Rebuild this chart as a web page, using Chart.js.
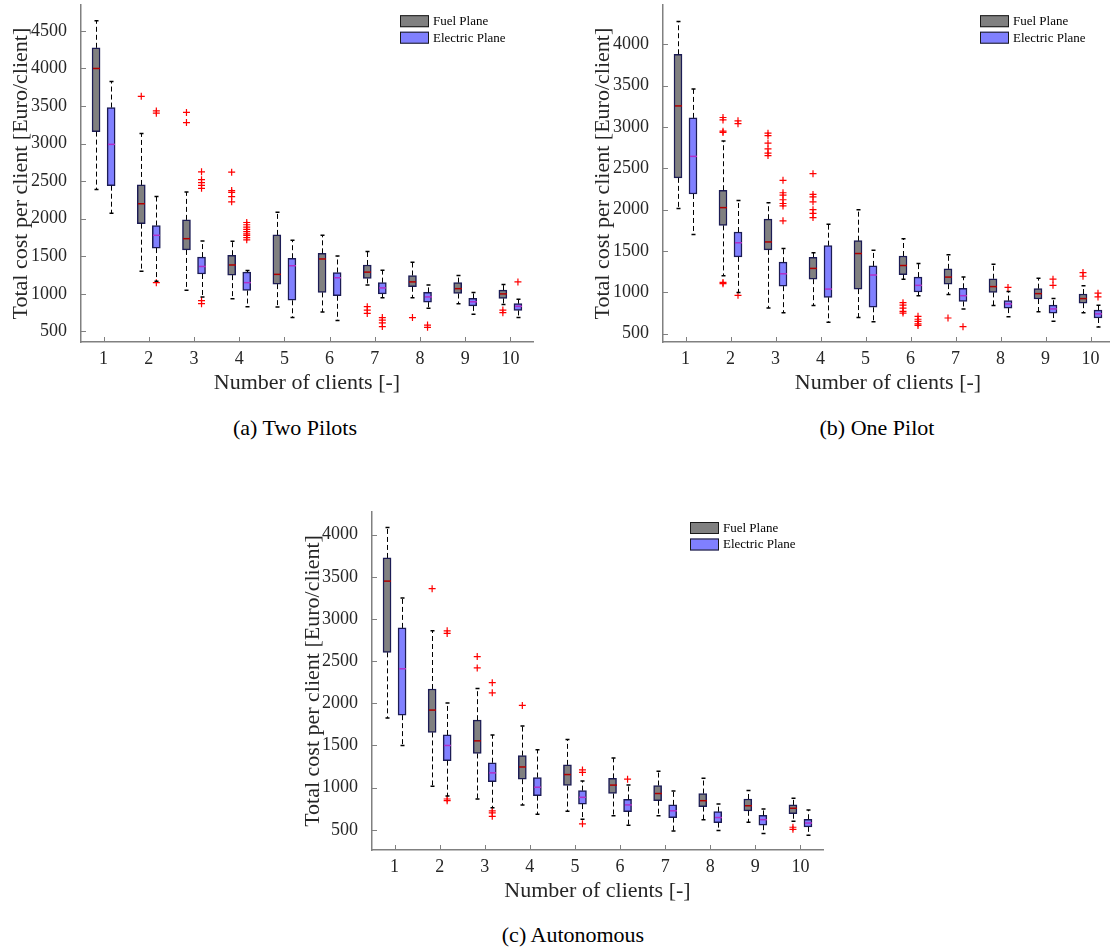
<!DOCTYPE html>
<html>
<head>
<meta charset="utf-8">
<script src="https://cdn.jsdelivr.net/npm/chart.js@4.4.1/dist/chart.umd.min.js"></script>
<style>
  html, body { margin: 0; padding: 0; background: #fff; width: 1110px; height: 948px; overflow: hidden; }
  .holder { position: absolute; }
  .caption { position: absolute; width: 240px; text-align: center; font-family: 'Liberation Serif', 'Times New Roman', Times, serif; font-size: 22px; line-height: 26px; color: #000; white-space: nowrap; }
</style>
</head>
<body>
<div class="holder" style="left:0px;top:0px;width:545px;height:400px"><canvas id="chartA"></canvas></div>
<div class="holder" style="left:580px;top:0px;width:545px;height:400px"><canvas id="chartB"></canvas></div>
<div class="holder" style="left:290px;top:506px;width:545px;height:402px"><canvas id="chartC"></canvas></div>
<div class="caption" style="left:175px;top:415px">(a) Two Pilots</div>
<div class="caption" style="left:757px;top:415px">(b) One Pilot</div>
<div class="caption" style="left:453px;top:922px">(c) Autonomous</div>
<script>
// number of clients
const cats = [1, 2, 3, 4, 5, 6, 7, 8, 9, 10];
const seriesNames = ['Fuel Plane', 'Electric Plane'];

// each row: [lower whisker, q1, median, q3, upper whisker]
const twoPilotsFuel = [
  [2390, 3160, 4000, 4275, 4635], [1300, 1935, 2200, 2450, 3135], [1050, 1585, 1735, 1985, 2355],
  [935, 1250, 1385, 1515, 1700], [825, 1130, 1260, 1785, 2085], [760, 1020, 1465, 1540, 1780],
  [1120, 1205, 1290, 1385, 1565], [950, 1095, 1160, 1245, 1420], [870, 1005, 1070, 1150, 1245],
  [860, 940, 1000, 1050, 1125]
];
const twoPilotsElec = [
  [2075, 2440, 2990, 3480, 3825], [1170, 1610, 1780, 1910, 2295], [960, 1265, 1365, 1490, 1705],
  [830, 1045, 1150, 1290, 1310], [685, 915, 1375, 1475, 1715], [645, 975, 1215, 1285, 1505],
  [950, 1000, 1080, 1150, 1315], [810, 890, 960, 1020, 1120], [730, 840, 895, 940, 1020],
  [685, 780, 835, 870, 930]
];
// outliers: [clients, value]
const twoPilotsFuelOut = [
  [2, 3630], [3, 3415], [3, 3280], [4, 2620], [4, 2375], [4, 2350], [4, 2295], [4, 2225],
  [7, 830], [7, 785], [7, 740], [8, 685], [10, 785], [10, 750]
];
const twoPilotsElecOut = [
  [2, 3435], [2, 3405], [2, 1150], [3, 2625], [3, 2520], [3, 2480], [3, 2445], [3, 2405], [3, 910], [3, 870],
  [4, 1950], [4, 1920], [4, 1890], [4, 1860], [4, 1830], [4, 1800], [4, 1780], [4, 1750], [4, 1720],
  [7, 685], [7, 650], [7, 615], [7, 565], [8, 585], [8, 555], [10, 1160]
];

const onePilotFuel = [
  [2015, 2385, 3255, 3880, 4275], [1200, 1810, 2025, 2235, 2830], [810, 1515, 1610, 1885, 2085],
  [840, 1160, 1290, 1425, 1480], [695, 1040, 1470, 1625, 2000], [1160, 1215, 1325, 1440, 1650],
  [975, 1100, 1185, 1285, 1455], [840, 1000, 1070, 1165, 1340], [765, 920, 985, 1045, 1170],
  [755, 870, 925, 980, 1080]
];
const onePilotElec = [
  [1700, 2190, 2645, 3110, 3460], [1000, 1430, 1600, 1730, 2110], [755, 1075, 1225, 1365, 1530],
  [640, 940, 1040, 1565, 1825], [645, 820, 1210, 1320, 1510], [960, 1005, 1085, 1185, 1350],
  [800, 890, 960, 1050, 1185], [705, 810, 860, 900, 1010], [650, 750, 800, 845, 925],
  [580, 690, 740, 785, 845]
];
const onePilotFuelOut = [
  [2, 3115], [2, 3085], [2, 2950], [2, 2935], [2, 1120], [2, 1105],
  [3, 2925], [3, 2895], [3, 2805], [3, 2735], [3, 2685], [3, 2655],
  [4, 2435], [4, 2185], [4, 2155], [4, 2095], [4, 2000], [4, 1955], [4, 1905],
  [6, 875], [6, 845], [6, 810], [6, 770], [6, 750], [7, 690], [10, 1240], [10, 1195]
];
const onePilotElecOut = [
  [2, 3075], [2, 3040], [2, 965], [3, 2355], [3, 2205], [3, 2175], [3, 2120], [3, 2075], [3, 2045], [3, 1865],
  [6, 710], [6, 675], [6, 650], [6, 620], [6, 600], [7, 585], [8, 1060], [9, 1160], [9, 1085], [10, 990], [10, 945]
];

const autonomousFuel = [
  [1825, 2605, 3450, 3725, 4085], [1015, 1655, 1920, 2170, 2860], [865, 1405, 1555, 1800, 2175],
  [795, 1100, 1245, 1380, 1730], [720, 1025, 1155, 1270, 1570], [665, 930, 1030, 1110, 1350],
  [665, 845, 930, 1025, 1195], [620, 775, 845, 930, 1110], [590, 725, 785, 865, 965],
  [600, 690, 755, 795, 875]
];
const autonomousElec = [
  [1500, 1860, 2410, 2895, 3250], [900, 1320, 1500, 1625, 2005], [760, 1070, 1175, 1295, 1625],
  [685, 905, 1005, 1120, 1450], [625, 805, 885, 965, 1080], [555, 715, 795, 860, 1030],
  [485, 645, 725, 795, 960], [490, 585, 645, 715, 805], [455, 555, 620, 670, 745],
  [435, 535, 580, 625, 735]
];
const autonomousFuelOut = [
  [2, 3360], [3, 2555], [3, 2420], [4, 1975], [10, 530], [10, 505]
];
const autonomousElecOut = [
  [2, 2860], [2, 2830], [2, 865], [2, 845], [3, 2245], [3, 2125], [3, 725], [3, 700], [3, 660],
  [5, 1210], [5, 1180], [5, 570], [6, 1100]
];

const ticksTwoPilots = [500, 1000, 1500, 2000, 2500, 3000, 3500, 4000, 4500];
const ticksOnePilot = [500, 1000, 1500, 2000, 2500, 3000, 3500, 4000];
const ticksAutonomous = [500, 1000, 1500, 2000, 2500, 3000, 3500, 4000];

const serif = '"Liberation Serif", "Times New Roman", serif';
const textColor = '#262626';
const axisColor = '#808080';
const shift = 1 / 6;
const boxW = 8;

// whiskers, caps and medians on top of the floating bars
const boxPlugin = {
  id: 'boxDecor',
  afterDatasetsDraw(chart, args, opts) {
    const { ctx, scales: { x, y } } = chart;
    opts.series.forEach(s => {
      s.stats.forEach((st, i) => {
        const cx = Math.round(x.getPixelForValue(cats[i] + s.shift)) + 0.5;
        const [lo, q1, med, q3, hi] = st.map(v => y.getPixelForValue(v));
        ctx.save();
        ctx.strokeStyle = '#000';
        ctx.lineWidth = 1;
        ctx.setLineDash([5, 3]);
        ctx.beginPath();
        ctx.moveTo(cx, q3); ctx.lineTo(cx, hi);
        ctx.moveTo(cx, q1); ctx.lineTo(cx, lo);
        ctx.stroke();
        ctx.setLineDash([]);
        ctx.lineWidth = 1.5;
        ctx.beginPath();
        ctx.moveTo(cx - 2, hi); ctx.lineTo(cx + 2, hi);
        ctx.moveTo(cx - 2, lo); ctx.lineTo(cx + 2, lo);
        ctx.stroke();
        ctx.strokeStyle = s.medColor;
        ctx.beginPath();
        ctx.moveTo(cx - boxW / 2 + 0.5, med); ctx.lineTo(cx + boxW / 2 - 0.5, med);
        ctx.stroke();
        ctx.restore();
      });
    });
  },
  afterDraw(chart) {
    const { ctx, chartArea, scales: { x, y } } = chart;
    ctx.save();
    // inward ticks
    ctx.strokeStyle = axisColor;
    ctx.lineWidth = 1;
    ctx.beginPath();
    x.ticks.forEach(t => {
      const px = Math.round(x.getPixelForValue(t.value)) + 0.5;
      ctx.moveTo(px, chartArea.bottom); ctx.lineTo(px, chartArea.bottom - 5);
    });
    y.ticks.forEach(t => {
      const py = Math.round(y.getPixelForValue(t.value)) + 0.5;
      ctx.moveTo(chartArea.left, py); ctx.lineTo(chartArea.left + 5, py);
    });
    ctx.stroke();
    // legend
    const lx = chartArea.right - 133;
    const ly = chartArea.top + 10;
    const fills = [chart.data.datasets[0].backgroundColor, chart.data.datasets[1].backgroundColor];
    ctx.font = '13px ' + serif;
    ctx.textBaseline = 'middle';
    seriesNames.forEach((name, k) => {
      const top = ly + k * 16.5;
      ctx.fillStyle = fills[k];
      ctx.fillRect(lx, top, 29, 12);
      ctx.strokeStyle = '#1a1a1a';
      ctx.lineWidth = 1;
      ctx.strokeRect(lx + 0.5, top + 0.5, 28, 11);
      ctx.fillStyle = '#000';
      ctx.fillText(name, lx + 33, top + 6.5);
    });
    ctx.restore();
  }
};

function makeChart(id, fuel, elec, fuelOut, elecOut, yMin, yMax, yTicks, yWidth, padTop, titlePad) {
  const boxSet = (stats, off, label, fill) => ({
    type: 'bar',
    label: label,
    data: stats.map((st, i) => ({ x: cats[i] + off, y: [st[1], st[3]] })),
    backgroundColor: fill,
    borderColor: '#1c1c55',
    borderWidth: 1.5,
    borderSkipped: false,
    barThickness: boxW,
    grouped: false,
    order: 2
  });
  const outSet = (pts, off) => ({
    type: 'scatter',
    data: pts.map(p => ({ x: p[0] + off, y: p[1] })),
    pointStyle: 'cross',
    pointRadius: 3.5,
    borderColor: '#ff0000',
    borderWidth: 1.2,
    order: 1
  });
  return new Chart(document.getElementById(id), {
    type: 'bar',
    data: {
      datasets: [
        boxSet(fuel, -shift, seriesNames[0], '#808080'),
        boxSet(elec, shift, seriesNames[1], '#8080ff'),
        outSet(fuelOut, -shift),
        outSet(elecOut, shift)
      ]
    },
    options: {
      responsive: true,
      maintainAspectRatio: false,
      animation: false,
      layout: { padding: { top: padTop, right: 12, left: 0, bottom: 0 } },
      plugins: {
        legend: { display: false },
        tooltip: { enabled: false },
        boxDecor: {
          series: [
            { stats: fuel, shift: -shift, medColor: '#b00000' },
            { stats: elec, shift: shift, medColor: '#b030c8' }
          ]
        }
      },
      scales: {
        x: {
          type: 'linear',
          min: 0.5,
          max: 10.5,
          offset: false,
          afterBuildTicks: s => { s.ticks = cats.map(v => ({ value: v })); },
          afterFit: s => { s.height = 58; s.paddingLeft = 0; s.paddingRight = 0; },
          grid: { display: false },
          border: { color: axisColor, width: 1.5 },
          ticks: { padding: -2, color: textColor, font: { family: serif, size: 18 }, maxRotation: 0, autoSkip: false, callback: v => String(v) },
          title: { display: true, text: 'Number of clients [-]', color: textColor, font: { family: serif, size: 22 }, padding: { top: 0, bottom: 4 } }
        },
        y: {
          type: 'linear',
          min: yMin,
          max: yMax,
          afterBuildTicks: s => { s.ticks = yTicks.map(v => ({ value: v })); },
          afterFit: s => { s.width = yWidth; s.paddingTop = 0; s.paddingBottom = 0; },
          grid: { display: false },
          border: { color: axisColor, width: 1.5 },
          ticks: { padding: 6, color: textColor, font: { family: serif, size: 18 }, callback: v => String(v) },
          title: { display: true, text: 'Total cost per client [Euro/client]', color: textColor, font: { family: serif, size: 22 }, padding: { top: titlePad, bottom: 0 } }
        }
      }
    },
    plugins: [boxPlugin]
  });
}

makeChart('chartA', twoPilotsFuel, twoPilotsElec, twoPilotsFuelOut, twoPilotsElecOut, 360, 4842, ticksTwoPilots, 81, 4.5, 8);
makeChart('chartB', onePilotFuel, onePilotElec, onePilotFuelOut, onePilotElecOut, 400, 4473, ticksOnePilot, 83, 4, 10);
makeChart('chartC', autonomousFuel, autonomousElec, autonomousFuelOut, autonomousElecOut, 260, 4270, ticksAutonomous, 82, 6, 10);
</script>
</body>
</html>
